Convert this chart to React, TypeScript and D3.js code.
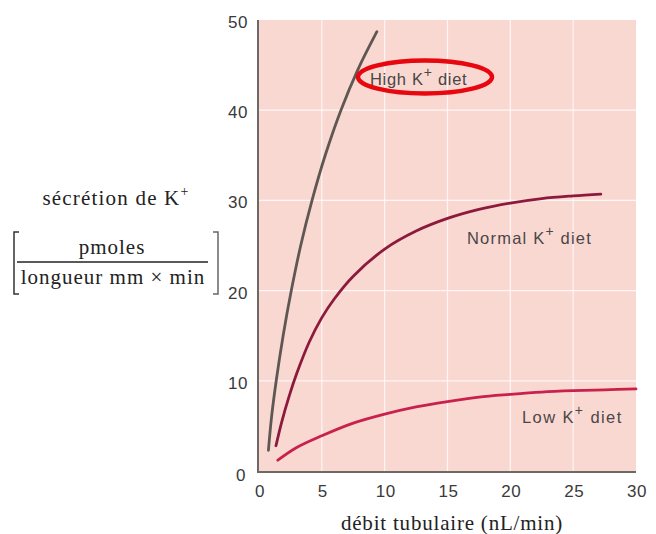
import * as React from 'react';
import { useEffect, useRef } from 'react';
import * as d3 from 'd3';

// curve values (x: débit tubulaire, y: sécrétion de K+)
const highX = [0.75, 1.0, 1.37, 1.92, 2.57, 3.32, 4.22, 5.27, 6.52, 7.87, 9.38];
const highY = [2.3, 6.0, 10.0, 15.0, 20.0, 25.0, 30.0, 35.0, 40.0, 44.5, 48.7];

const normalX = [1.35, 1.8, 2.4, 3.0, 4.0, 5.0, 6.0, 7.5, 10, 12.5, 15, 17.5, 20, 22.5, 25, 27.2];
const normalY = [2.8, 5.4, 8.3, 10.8, 14.3, 17.0, 19.1, 21.6, 24.6, 26.6, 28.0, 29.0, 29.7, 30.2, 30.5, 30.7];

const lowX = [1.5, 3, 5, 7.5, 10, 12.5, 15, 17.5, 20, 22.5, 25, 27.5, 30];
const lowY = [1.2, 2.6, 3.9, 5.3, 6.3, 7.1, 7.7, 8.2, 8.5, 8.75, 8.9, 9.0, 9.1];

const xTicks = [0, 5, 10, 15, 20, 25, 30];
const yTicks = [0, 10, 20, 30, 40, 50];

const series = [
  { name: 'High', xs: highX, ys: highY, color: '#5f5753', label: [370, 85], spacing: 0.7 },
  { name: 'Normal', xs: normalX, ys: normalY, color: '#8c1a3c', label: [467, 244], spacing: 1.2 },
  { name: 'Low', xs: lowX, ys: lowY, color: '#c8214d', label: [522, 423], spacing: 1.4 },
];

const sans = '"Liberation Sans", Arial, sans-serif';
const serif = '"Liberation Serif", "Times New Roman", serif';

export default function App() {
  const ref = useRef<SVGSVGElement>(null);

  useEffect(() => {
    document.body.style.margin = '0';
    const svg = d3.select(ref.current);
    svg.selectAll('*').remove();

    const x = d3.scaleLinear().domain([0, 30]).range([259, 636]);
    const y = d3.scaleLinear().domain([0, 50]).range([471, 20]);

    // plot background
    svg.append('rect')
      .attr('x', x(0)).attr('y', y(50))
      .attr('width', x(30) - x(0)).attr('height', y(0) - y(50))
      .attr('fill', '#fad8d2');

    // grid
    svg.selectAll('.vgrid').data(xTicks.slice(1, -1)).enter().append('line')
      .attr('x1', (d) => x(d)).attr('x2', (d) => x(d))
      .attr('y1', y(50)).attr('y2', y(0))
      .attr('stroke', '#fff').attr('stroke-opacity', 0.75).attr('stroke-width', 1.2);
    svg.selectAll('.hgrid').data(yTicks.slice(1, -1)).enter().append('line')
      .attr('x1', x(0)).attr('x2', x(30))
      .attr('y1', (d) => y(d)).attr('y2', (d) => y(d))
      .attr('stroke', '#fff').attr('stroke-opacity', 0.75).attr('stroke-width', 1.2);

    // axis lines
    svg.append('line').attr('x1', x(0) - 1).attr('x2', x(0) - 1).attr('y1', y(50)).attr('y2', y(0) + 1)
      .attr('stroke', '#6e6866').attr('stroke-width', 2);
    svg.append('line').attr('x1', x(0) - 2).attr('x2', x(30)).attr('y1', y(0) + 1).attr('y2', y(0) + 1)
      .attr('stroke', '#6e6866').attr('stroke-width', 2);

    // tick labels
    svg.selectAll('.xt').data(xTicks).enter().append('text')
      .attr('x', (d) => x(d) + 1).attr('y', 497)
      .attr('text-anchor', 'middle')
      .attr('font-family', sans).attr('font-size', 17).attr('letter-spacing', 0.5).attr('fill', '#3a3a3a')
      .text((d) => d);
    svg.selectAll('.yt').data(yTicks).enter().append('text')
      .attr('x', (d) => (d === 0 ? 246 : 248)).attr('y', (d) => y(d) + (d === 0 ? 10 : 8))
      .attr('text-anchor', 'end')
      .attr('font-family', sans).attr('font-size', 17).attr('letter-spacing', 0.5).attr('fill', '#3a3a3a')
      .text((d) => d);

    // curves
    const line = d3.line<[number, number]>()
      .x((d) => x(d[0])).y((d) => y(d[1]))
      .curve(d3.curveCatmullRom.alpha(0.5));
    series.forEach((s) => {
      const pts = s.xs.map((v, i) => [v, s.ys[i]] as [number, number]);
      svg.append('path')
        .attr('d', line(pts))
        .attr('fill', 'none')
        .attr('stroke', s.color)
        .attr('stroke-width', 2.8)
        .attr('stroke-linecap', 'round');
    });

    // curve labels
    series.forEach((s) => {
      const t = svg.append('text')
        .attr('x', s.label[0]).attr('y', s.label[1])
        .attr('font-family', sans).attr('font-size', 16.5).attr('letter-spacing', s.spacing).attr('fill', '#4a4646');
      t.append('tspan').text(s.name + ' K');
      t.append('tspan').attr('dy', -8).attr('font-size', 14).text('+');
      t.append('tspan').attr('dy', 8).text(' diet');
    });

    // red highlight around "High K+ diet"
    svg.append('ellipse')
      .attr('cx', 425).attr('cy', 77).attr('rx', 67).attr('ry', 16.5)
      .attr('fill', 'none').attr('stroke', '#e8070e').attr('stroke-width', 4.5);

    // x title
    svg.append('text')
      .attr('x', 452).attr('y', 530).attr('text-anchor', 'middle')
      .attr('font-family', serif).attr('font-size', 21).attr('letter-spacing', 0.8).attr('fill', '#222')
      .text('débit tubulaire (nL/min)');

    // y title
    const yt = svg.append('text')
      .attr('x', 116).attr('y', 205).attr('text-anchor', 'middle')
      .attr('font-family', serif).attr('font-size', 21).attr('letter-spacing', 1.2).attr('fill', '#222');
    yt.append('tspan').text('sécrétion de K');
    yt.append('tspan').attr('dy', -9).attr('font-size', 14).text('+');

    svg.append('text')
      .attr('x', 112).attr('y', 254).attr('text-anchor', 'middle')
      .attr('font-family', serif).attr('font-size', 21).attr('letter-spacing', 1).attr('fill', '#222')
      .text('pmoles');
    svg.append('line').attr('x1', 17).attr('x2', 208).attr('y1', 262).attr('y2', 262)
      .attr('stroke', '#222').attr('stroke-width', 1.3);
    svg.append('text')
      .attr('x', 113).attr('y', 284).attr('text-anchor', 'middle')
      .attr('font-family', serif).attr('font-size', 21).attr('letter-spacing', 1).attr('fill', '#222')
      .text('longueur mm × min');

    // brackets
    svg.append('path').attr('d', 'M19,232 H14 V294 H19')
      .attr('fill', 'none').attr('stroke', '#333').attr('stroke-width', 1.5);
    svg.append('path').attr('d', 'M213,232 H218 V294 H213')
      .attr('fill', 'none').attr('stroke', '#666').attr('stroke-width', 1.5);
  }, []);

  return <svg ref={ref} width={656} height={534} style={{ display: 'block', background: '#fff' }} />;
}
